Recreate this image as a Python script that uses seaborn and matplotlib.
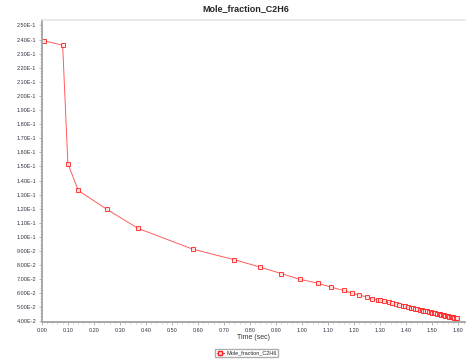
import pandas as pd
import matplotlib
matplotlib.use("Agg")
import matplotlib.pyplot as plt
from matplotlib.ticker import MultipleLocator, AutoMinorLocator, FuncFormatter
import seaborn as sns

# values
time_sec = [
    0.01, 0.08, 0.10, 0.14, 0.25, 0.37, 0.58, 0.74, 0.84, 0.92,
    0.99, 1.06, 1.11, 1.16, 1.19, 1.22, 1.25, 1.27, 1.29, 1.30,
    1.316, 1.332, 1.347, 1.361, 1.373, 1.386, 1.397, 1.407, 1.417, 1.426,
    1.435, 1.443, 1.451, 1.459, 1.466, 1.473, 1.480, 1.487, 1.494, 1.500,
    1.506, 1.512, 1.518, 1.524, 1.530, 1.535, 1.540, 1.545, 1.550, 1.555,
    1.560, 1.565, 1.570, 1.575, 1.580, 1.585, 1.590, 1.594,
]
mole_fraction_c2h6 = [
    0.2390, 0.2360, 0.1520, 0.1330, 0.1195, 0.1060, 0.0913, 0.0838, 0.0785, 0.0740,
    0.0700, 0.0672, 0.0644, 0.0620, 0.0602, 0.0587, 0.0573, 0.0562, 0.0553, 0.0549,
    0.0542, 0.0535, 0.0528, 0.0522, 0.0517, 0.0512, 0.0507, 0.0503, 0.0498, 0.0495,
    0.0491, 0.0487, 0.0484, 0.0480, 0.0477, 0.0474, 0.0471, 0.0468, 0.0465, 0.0463,
    0.0460, 0.0458, 0.0455, 0.0452, 0.0450, 0.0448, 0.0446, 0.0444, 0.0441, 0.0439,
    0.0437, 0.0435, 0.0433, 0.0431, 0.0429, 0.0427, 0.0424, 0.0422,
]
series_name = "Mole_fraction_C2H6"

df = pd.DataFrame({"time": time_sec, "value": mole_fraction_c2h6, "series": series_name})

sns.set_style("white")
plt.rcParams["font.family"] = ["Liberation Sans", "DejaVu Sans"]

fig = plt.figure(figsize=(4.7, 3.6), dpi=100)
ax = fig.add_axes([0.089, 0.105, 0.90, 0.84])

sns.lineplot(
    data=df, x="time", y="value", hue="series",
    palette=["#ff4040"], marker="s", markersize=2.8,
    markerfacecolor="#ffe4e4", markeredgecolor="#ff1818", markeredgewidth=0.7,
    linewidth=0.7, alpha=0.85, legend=False, ax=ax, sort=False,
)

ax.set_xlim(0.0, 1.625)
ax.set_ylim(0.0395, 0.254)
ax.xaxis.set_major_locator(MultipleLocator(0.1))
ax.yaxis.set_major_locator(MultipleLocator(0.01))
ax.xaxis.set_minor_locator(AutoMinorLocator(5))
ax.yaxis.set_minor_locator(AutoMinorLocator(5))
ax.xaxis.set_major_formatter(FuncFormatter(lambda v, p: f"{v:.2f}"))


def sci(v, pos):
    m, e = f"{v:.2E}".split("E")
    return f"{m}E{int(e)}"


ax.yaxis.set_major_formatter(FuncFormatter(sci))
ax.tick_params(which="major", length=2, width=0.5, color="#999999",
               labelsize=4, labelcolor="#333344", pad=2)
ax.tick_params(which="minor", length=1.2, width=0.4, color="#bbbbbb")
ax.tick_params(axis="x", which="both", bottom=True)
ax.tick_params(axis="y", which="both", left=True)

for side in ["left", "bottom"]:
    ax.spines[side].set_color("#a8a8a8")
    ax.spines[side].set_linewidth(1.4)
ax.spines["top"].set_color("#e6e6e6")
ax.spines["top"].set_linewidth(1.2)
ax.spines["right"].set_visible(False)

ax.set_xlabel("Time (sec)", fontsize=5, color="#333333", labelpad=1)
ax.set_ylabel("")

fig.suptitle(series_name, x=0.523, y=0.99, fontsize=6.5, fontweight="bold")

handles = [plt.Line2D([], [], color="#ff2020", marker="s", markersize=2.8,
                      markerfacecolor="#ffe0e0", linewidth=0.8)]
fig.legend(handles, [series_name], loc="lower center", bbox_to_anchor=(0.525, 0.0),
           fontsize=4, frameon=True, fancybox=False, edgecolor="#999999",
           handlelength=1.2, handletextpad=0.4, borderpad=0.3)

fig.savefig("out.png", dpi=100)
